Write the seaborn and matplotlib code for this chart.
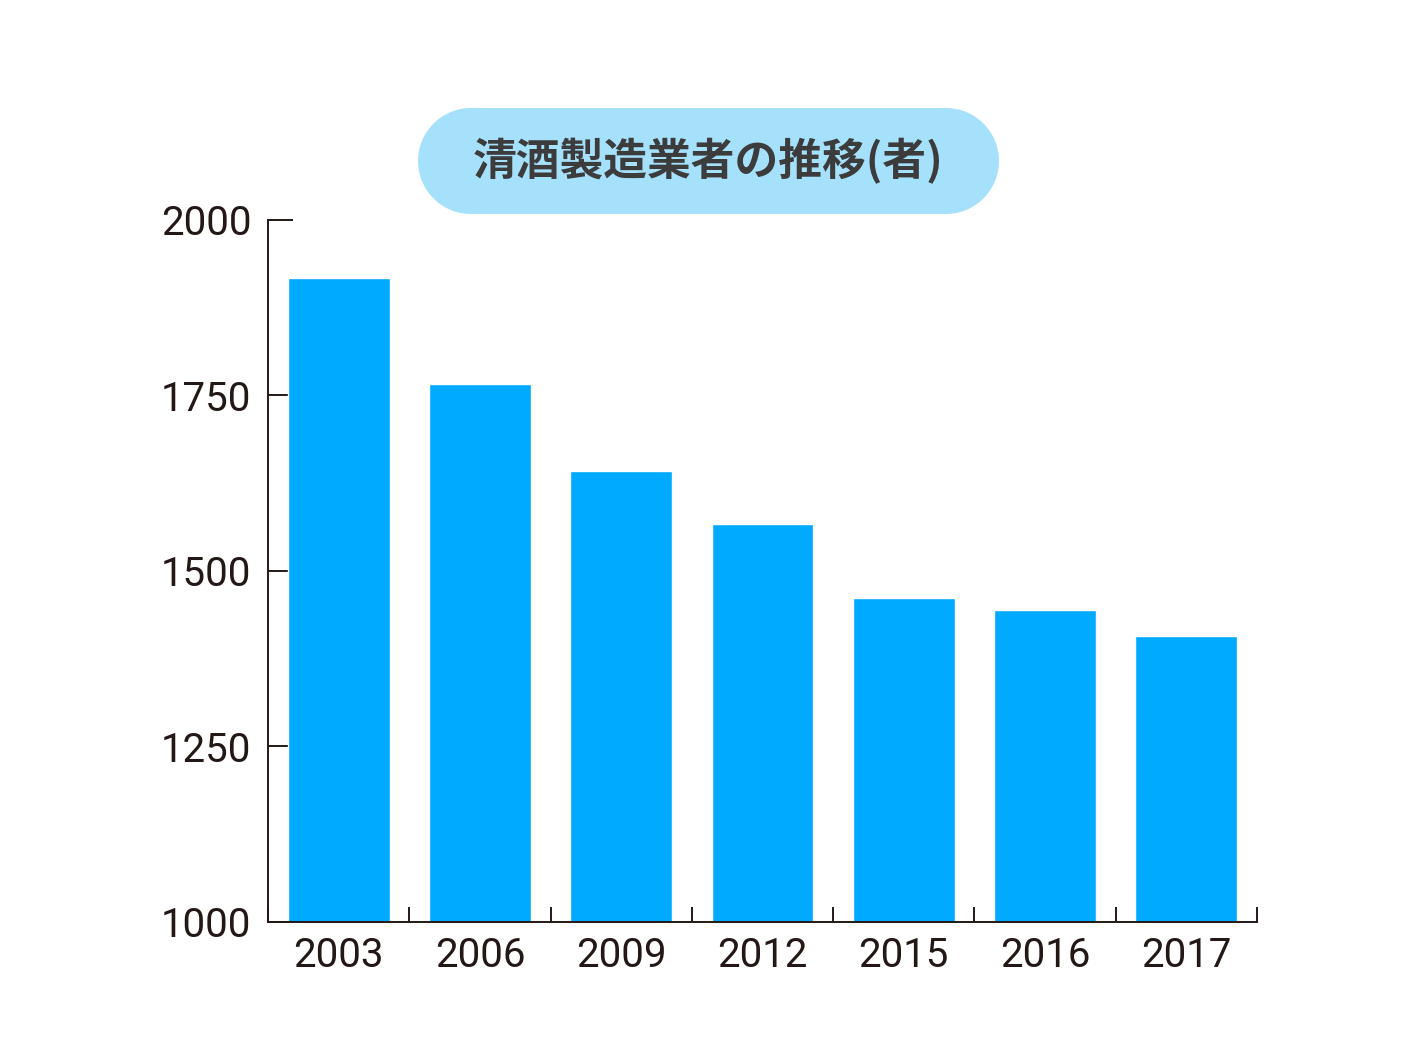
import matplotlib
matplotlib.use("Agg")
import matplotlib.pyplot as plt
import seaborn as sns
import pandas as pd
from matplotlib.patches import Rectangle, Circle
from matplotlib.transforms import IdentityTransform

# data
years = ["2003", "2006", "2009", "2012", "2015", "2016", "2017"]
makers = [1917, 1766, 1642, 1567, 1461, 1444, 1407]
y_ticks = [1000, 1250, 1500, 1750, 2000]
title = "清酒製造業者の推移(者)"

df = pd.DataFrame({"year": years, "count": makers})

sns.set_style("white")
plt.rcParams["font.family"] = ["Roboto", "Noto Sans CJK JP", "DejaVu Sans"]

fig = plt.figure(figsize=(14.18, 10.5), dpi=100)
ax = fig.add_axes([268 / 1418, 1 - 922 / 1050, (1257 - 268) / 1418, (922 - 220) / 1050])

sns.barplot(data=df, x="year", y="count", color="#00aaff", width=0.72,
            saturation=1, ax=ax)

ax.set_ylim(1000, 2000)
ax.set_xlim(-0.5, len(years) - 0.5)
ax.set_yticks(y_ticks)
ax.set_xlabel("")
ax.set_ylabel("")

ink = "#231815"
for side in ["top", "right"]:
    ax.spines[side].set_visible(False)
for side in ["left", "bottom"]:
    ax.spines[side].set_linewidth(1.4)
    ax.spines[side].set_color(ink)

ax.tick_params(axis="y", direction="in", length=18, width=1.4, color=ink,
               labelsize=29, labelcolor=ink, pad=12, left=True)
ax.tick_params(axis="x", which="major", length=0, labelsize=29,
               labelcolor=ink, pad=10)
ax.set_xticks([i - 0.5 for i in range(len(years) + 1)], minor=True)
ax.tick_params(axis="x", which="minor", direction="in", length=11,
               width=1.4, color=ink, bottom=True)

# pill-shaped title box (pixel coords)
x0, x1, yb, h = 418, 999, 1050 - 214, 106
r = h / 2
pill_color = "#a6e1fb"
for p in [Rectangle((x0 + r, yb), x1 - x0 - 2 * r, h),
          Circle((x0 + r, yb + r), r), Circle((x1 - r, yb + r), r)]:
    p.set_transform(IdentityTransform())
    p.set_facecolor(pill_color)
    p.set_edgecolor("none")
    fig.add_artist(p)

fig.text(708.5 / 1418, 1 - 161 / 1050, title, ha="center", va="center",
         fontsize=31.5, fontweight="bold", color="#3c3c3c",
         family=["Noto Sans CJK JP", "DejaVu Sans"])

fig.savefig("out.png", dpi=100)
